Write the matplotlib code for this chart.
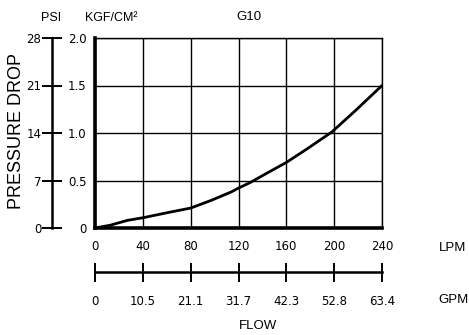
import numpy as np
import matplotlib
matplotlib.use("Agg")
import matplotlib.pyplot as plt

# flow (LPM) vs pressure drop (KGF/CM2)
flow_lpm = [0, 13, 27, 41, 60, 80, 97, 114, 120, 130, 147, 160, 177, 198, 219, 240]
drop_kgf = [0, 0.03, 0.08, 0.11, 0.16, 0.21, 0.29, 0.38, 0.42, 0.48, 0.60, 0.69, 0.83, 1.01, 1.25, 1.50]

lpm_ticks = [0, 40, 80, 120, 160, 200, 240]
gpm_ticks = [0, 10.5, 21.1, 31.7, 42.3, 52.8, 63.4]
kgf_ticks = [0, 0.5, 1.0, 1.5, 2.0]
kgf_labels = ["0", "0.5", "1.0", "1.5", "2.0"]
psi_ticks = [0, 7, 14, 21, 28]

W, H = 469, 335
label_font = "Liberation Sans"
num_font = "DejaVu Sans"

fig = plt.figure(figsize=(W / 100, H / 100), dpi=100)
ax = fig.add_axes([95 / W, 1 - 228 / H, (382 - 95) / W, (228 - 38) / H])

ax.plot(flow_lpm, drop_kgf, color="black", linewidth=2.0, solid_capstyle="round")
ax.set_xlim(0, 240)
ax.set_ylim(0, 2.0)
ax.set_xticks(lpm_ticks)
ax.set_yticks(kgf_ticks)
ax.set_yticklabels(kgf_labels)
ax.grid(True, color="black", linewidth=1.0)
ax.tick_params(axis="both", length=0, labelsize=8.5, colors="black")
ax.tick_params(axis="x", pad=9)
ax.tick_params(axis="y", pad=6)
for lab in ax.get_xticklabels() + ax.get_yticklabels():
    lab.set_fontfamily(num_font)
ax.spines["left"].set_linewidth(2.6)
ax.spines["bottom"].set_linewidth(2.6)
ax.spines["top"].set_linewidth(1.0)
ax.spines["right"].set_linewidth(1.0)

# PSI axis, offset to the left
psi = ax.twinx()
psi.set_ylim(0, 28)
psi.set_yticks(psi_ticks)
for s in ["top", "bottom", "right"]:
    psi.spines[s].set_visible(False)
psi.spines["left"].set_position(("outward", 43 * 0.72))
psi.spines["left"].set_linewidth(1.8)
psi.yaxis.set_ticks_position("left")
psi.yaxis.set_label_position("left")
psi.tick_params(axis="y", direction="inout", length=20 * 0.72, width=1.4,
                pad=0.5, labelsize=8.5)
for lab in psi.get_yticklabels():
    lab.set_fontfamily(num_font)

# GPM axis, offset below
gpm = ax.twiny()
gpm.set_xlim(0, 63.4)
gpm.set_xticks(gpm_ticks)
gpm.set_xticklabels([str(v) if v else "0" for v in gpm_ticks])
for s in ["top", "left", "right"]:
    gpm.spines[s].set_visible(False)
gpm.spines["bottom"].set_position(("outward", 44 * 0.72))
gpm.spines["bottom"].set_linewidth(1.8)
gpm.xaxis.set_ticks_position("bottom")
gpm.xaxis.set_label_position("bottom")
gpm.tick_params(axis="x", direction="inout", length=19 * 0.72, width=1.4,
                pad=10, labelsize=8.5)
for lab in gpm.get_xticklabels():
    lab.set_fontfamily(num_font)


def ftext(x, y, s, **kw):
    fig.text(x / W, 1 - y / H, s, ha="center", va="center",
             family=label_font, **kw)


ftext(51, 18, "PSI", fontsize=9)
ftext(111, 18, "KGF/CM²", fontsize=9)
ftext(249, 16.5, "G10", fontsize=9.5)
ftext(17, 131, "PRESSURE DROP", fontsize=13, rotation=90)
ftext(453, 248, "LPM", fontsize=9.5)
ftext(453, 300, "GPM", fontsize=9.5)
ftext(258, 326, "FLOW", fontsize=9.5)

fig.savefig("out.png", dpi=100, facecolor="white")
